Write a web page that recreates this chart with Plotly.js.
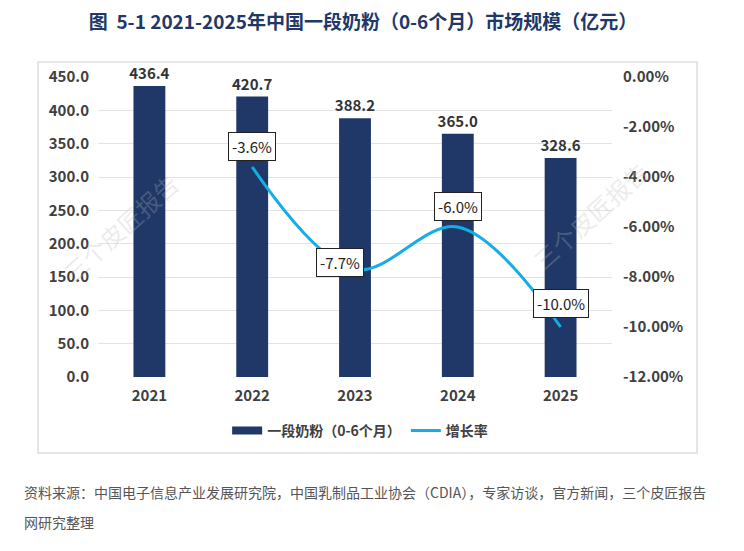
<!DOCTYPE html>
<html>
<head>
<meta charset="utf-8">
<script src="https://cdn.plot.ly/plotly-3.0.1.min.js"></script>
<style>
  html, body { margin:0; padding:0; background:#fff; }
  #chart { width:744px; height:551px; }
</style>
</head>
<body>
<div id="chart"></div>
<script>
// ── data ──
const years      = ['2021', '2022', '2023', '2024', '2025'];
const marketSize = [436.4, 420.7, 388.2, 365.0, 328.6];      // 亿元
const growthYears = ['2022', '2023', '2024', '2025'];
const growthRate  = [-3.6, -7.7, -6.0, -10.0];                // %
const growthShift = [21, 7, 21, 24];                          // label offset, px
const rateTicks   = [0, -2, -4, -6, -8, -10, -12];            // right axis

const FONT = '"Noto Sans CJK SC", "Noto Sans", sans-serif';
const NAVY = '#1f3868';
const CYAN = '#14ade6';
const GRID = '#e3e3e3';
const TXT  = '#404040';

const traces = [
  {
    type:'bar', name:'一段奶粉（0-6个月）', showlegend:false,
    x: years, y: marketSize,
    marker:{color:NAVY},
    width:0.31,
    texttemplate:'%{y:.1f}', textposition:'outside', cliponaxis:false, constraintext:'none',
    textfont:{family:FONT, size:15, color:'#333', weight:'bold'},
    hoverinfo:'skip'
  },
  // legend-only stand-in so the bar swatch is a wide flat block like the original
  {
    type:'scatter', mode:'lines', name:'一段奶粉（0-6个月）',
    x:[null], y:[null],
    line:{color:NAVY, width:8},
    hoverinfo:'skip'
  },
  {
    type:'scatter', mode:'lines', name:'增长率',
    x: growthYears, y: growthRate, yaxis:'y2',
    line:{color:CYAN, width:3, shape:'spline', smoothing:1},
    hoverinfo:'skip'
  }
];

// boxed labels on the growth line (category index as x)
const annotations = growthYears.map((yr,i) => ({
  x: years.indexOf(yr), y: growthRate[i], xref:'x', yref:'y2',
  text: growthRate[i].toFixed(1) + '%', showarrow:false,
  yshift: growthShift[i], xshift: i === 1 ? -15 : 0,
  bgcolor:'#fff', bordercolor:'#222', borderwidth:1, borderpad:3,
  font:{family:FONT, size:15, color:'#222'}
}));

// source notes
annotations.push(
  { xref:'paper', yref:'paper', x:-0.148, y:-0.383, xanchor:'left', yanchor:'middle', showarrow:false,
    text:'资料来源：中国电子信息产业发展研究院，中国乳制品工业协会（CDIA），专家访谈，官方新闻，三个皮匠报告',
    font:{family:FONT, size:14, color:'#555'} },
  { xref:'paper', yref:'paper', x:-0.148, y:-0.483, xanchor:'left', yanchor:'middle', showarrow:false,
    text:'网研究整理', font:{family:FONT, size:14, color:'#555'} }
);

// watermarks
[[0.043, 0.5], [0.957, 0.54]].forEach(([wx, wy]) => annotations.push({
  xref:'paper', yref:'paper', x:wx, y:wy, xanchor:'center', yanchor:'middle',
  showarrow:false, textangle:-42,
  text:'三个皮匠报告', font:{family:FONT, size:24, color:'rgba(185,185,185,0.28)'}
}));

const layout = {
  width:744, height:551,
  margin:{l:98, r:132, t:77, b:174},
  paper_bgcolor:'#fff', plot_bgcolor:'#fff',
  font:{family:FONT, color:TXT},
  title:{
    text:'图  5-1 2021-2025年中国一段奶粉（0-6个月）市场规模（亿元）',
    x:0.488, xanchor:'center', y:0.96, yanchor:'middle',
    font:{family:FONT, size:19, color:'#1f3868', weight:'bold'}
  },
  showlegend:true,
  legend:{
    orientation:'h', x:0.51, xanchor:'center', y:-0.18, yanchor:'middle',
    font:{family:FONT, size:14, color:TXT, weight:'bold'}, traceorder:'normal'
  },
  xaxis:{
    type:'category', categoryorder:'array', categoryarray:years,
    range:[-0.5, years.length - 0.5], autorange:false,
    showgrid:false, zeroline:false, showline:false, ticks:'', ticklabelstandoff:8,
    tickfont:{family:FONT, size:15, color:TXT, weight:'bold'}
  },
  yaxis:{
    range:[0, 450], autorange:false, dtick:50, tickformat:'.1f',
    gridcolor:GRID, gridwidth:1, zeroline:false, showline:false,
    ticks:'', ticklabelstandoff:8,
    tickfont:{family:FONT, size:15, color:TXT, weight:'bold'}
  },
  yaxis2:{
    overlaying:'y', side:'right', range:[-12, 0], autorange:false,
    tickmode:'array', tickvals:rateTicks,
    ticktext:rateTicks.map(v => v.toFixed(2) + '%'),
    ticklabelstandoff:10,
    showgrid:false, zeroline:false, showline:false,
    tickfont:{family:FONT, size:15, color:TXT, weight:'bold'}
  },
  shapes:[{
    type:'rect', xref:'paper', yref:'paper',
    x0:-0.1167, x1:1.1654, y0:-0.2533, y1:1.05,
    line:{color:'#dedede', width:1.5}, fillcolor:'rgba(0,0,0,0)', layer:'below'
  }],
  annotations
};

Plotly.newPlot('chart', traces, layout, {displayModeBar:false, staticPlot:true});
</script>
</body>
</html>
